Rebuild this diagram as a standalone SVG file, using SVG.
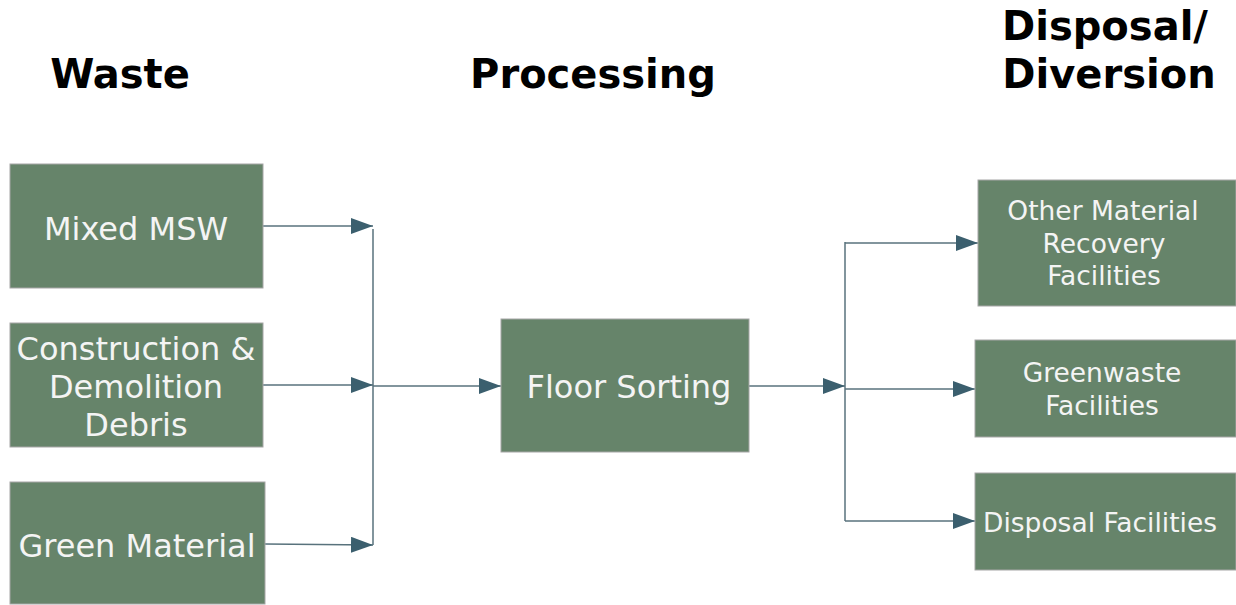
<svg xmlns="http://www.w3.org/2000/svg" width="1236" height="605" viewBox="0 0 1236 605">
<style>
.box{fill:#66846a;stroke:#a6a6a6;stroke-width:1}
.t{font-family:"DejaVu Sans",Verdana,sans-serif;fill:#f4f4f4;text-anchor:middle}
.l{font-size:32px}
.s{font-size:26.5px}
.h{font-family:"DejaVu Sans",Verdana,sans-serif;font-weight:bold;fill:#000;text-anchor:middle;font-size:40px}
.c{fill:none;stroke:#58727c;stroke-width:1.5}
</style>
<defs>
<marker id="ah" markerWidth="22" markerHeight="16" refX="22" refY="8" orient="auto" markerUnits="userSpaceOnUse">
<path d="M0,0 L22,8 L0,16 Z" fill="#3b5f6e"/>
</marker>
</defs>
<rect width="1236" height="605" fill="#fff"/>
<g id="titles">
<text class="h" x="120" y="88">Waste</text>
<text class="h" x="593" y="88">Processing</text>
<text class="h" x="1105" y="40">Disposal/</text>
<text class="h" x="1109" y="88">Diversion</text>
</g>
<g id="connectors">
<path class="c" d="M263,226 L373,226" marker-end="url(#ah)"/>
<path class="c" d="M263,385 L373,385" marker-end="url(#ah)"/>
<path class="c" d="M265,544 L373,545" marker-end="url(#ah)"/>
<path class="c" d="M373,229 L373,545"/>
<path class="c" d="M373,386 L501,386" marker-end="url(#ah)"/>
<path class="c" d="M749,386 L845,386" marker-end="url(#ah)"/>
<path class="c" d="M845,242 L845,521"/>
<path class="c" d="M845,243 L978,243" marker-end="url(#ah)"/>
<path class="c" d="M845,389 L975,389" marker-end="url(#ah)"/>
<path class="c" d="M845,521 L975,521" marker-end="url(#ah)"/>
</g>
<g id="mixed-msw">
<rect class="box" x="10" y="164" width="253" height="124"/>
<text class="t l" x="136" y="240">Mixed MSW</text>
</g>
<g id="cd-debris">
<rect class="box" x="10" y="323" width="253" height="124"/>
<text class="t l" x="136" y="360">Construction &amp;</text>
<text class="t l" x="136" y="398">Demolition</text>
<text class="t l" x="136" y="436">Debris</text>
</g>
<g id="green-material">
<rect class="box" x="10" y="482" width="255" height="122"/>
<text class="t l" x="137" y="557">Green Material</text>
</g>
<g id="floor-sorting">
<rect class="box" x="501" y="319" width="248" height="133"/>
<text class="t l" x="629" y="398">Floor Sorting</text>
</g>
<g id="other-mrf">
<rect class="box" x="978" y="180" width="258" height="126"/>
<text class="t s" x="1103" y="220">Other Material</text>
<text class="t s" x="1104" y="253">Recovery</text>
<text class="t s" x="1104" y="285">Facilities</text>
</g>
<g id="greenwaste">
<rect class="box" x="975" y="340" width="261" height="97"/>
<text class="t s" x="1102" y="382">Greenwaste</text>
<text class="t s" x="1102" y="415">Facilities</text>
</g>
<g id="disposal">
<rect class="box" x="975" y="473" width="261" height="97"/>
<text class="t s" x="1100" y="532">Disposal Facilities</text>
</g>
</svg>
